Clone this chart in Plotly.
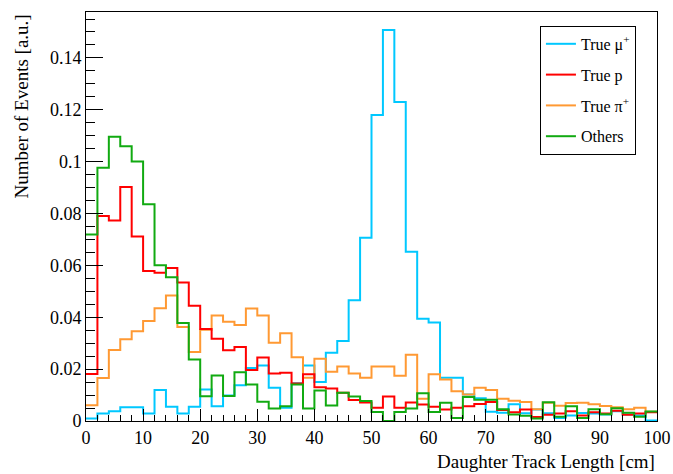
import plotly.graph_objects as go

bin_edges = [2 * i for i in range(51)]

true_mu = [0.0010, 0.0029, 0.0038, 0.0053, 0.0053, 0.0029, 0.0120, 0.0055, 0.0029, 0.0055,
           0.0121, 0.0057, 0.0098, 0.0138, 0.0204, 0.0214, 0.0128, 0.0051, 0.0146, 0.0214,
           0.0150, 0.0263, 0.0308, 0.0466, 0.0707, 0.1180, 0.1508, 0.1230, 0.0653, 0.0394,
           0.0380, 0.0167, 0.0167, 0.0102, 0.0088, 0.0036, 0.0032, 0.0065, 0.0030, 0.0044,
           0.0030, 0.0012, 0.0021, 0.0031, 0.0029, 0.0025, 0.0038, 0.0025, 0.0021, 0.0002]

true_p = [0.0181, 0.0790, 0.0773, 0.0902, 0.0711, 0.0578, 0.0572, 0.0590, 0.0534, 0.0444,
          0.0355, 0.0317, 0.0273, 0.0285, 0.0197, 0.0245, 0.0183, 0.0186, 0.0145, 0.0180,
          0.0130, 0.0125, 0.0109, 0.0081, 0.0071, 0.0051, 0.0094, 0.0051, 0.0071, 0.0064,
          0.0055, 0.0044, 0.0051, 0.0057, 0.0066, 0.0073, 0.0042, 0.0034, 0.0044, 0.0015,
          0.0024, 0.0029, 0.0038, 0.0021, 0.0034, 0.0029, 0.0040, 0.0024, 0.0029, 0.0034]

true_pi = [0.0061, 0.0166, 0.0274, 0.0315, 0.0346, 0.0386, 0.0435, 0.0484, 0.0362, 0.0266,
           0.0352, 0.0407, 0.0383, 0.0370, 0.0434, 0.0407, 0.0302, 0.0338, 0.0246, 0.0167,
           0.0240, 0.0190, 0.0210, 0.0183, 0.0167, 0.0210, 0.0210, 0.0174, 0.0255, 0.0086,
           0.0180, 0.0160, 0.0115, 0.0102, 0.0128, 0.0120, 0.0086, 0.0078, 0.0073, 0.0045,
           0.0070, 0.0059, 0.0069, 0.0070, 0.0065, 0.0058, 0.0053, 0.0045, 0.0051, 0.0036]

others = [0.0719, 0.0976, 0.1096, 0.1059, 0.1001, 0.0836, 0.0601, 0.0554, 0.0378, 0.0237,
          0.0095, 0.0175, 0.0096, 0.0188, 0.0141, 0.0074, 0.0048, 0.0057, 0.0141, 0.0048,
          0.0118, 0.0060, 0.0109, 0.0094, 0.0077, 0.0035, 0.0000, 0.0035, 0.0048, 0.0107,
          0.0035, 0.0070, 0.0012, 0.0093, 0.0082, 0.0082, 0.0045, 0.0025, 0.0020, 0.0010,
          0.0072, 0.0016, 0.0057, 0.0012, 0.0045, 0.0026, 0.0049, 0.0032, 0.0016, 0.0037]

series = [
    ("True μ<sup>+</sup>", true_mu, "#00C8FF"),
    ("True p", true_p, "#FF0000"),
    ("True π<sup>+</sup>", true_pi, "#FF9933"),
    ("Others", others, "#11AA11"),
]
draw_order = [0, 2, 1, 3]

FONT = "Liberation Serif"

fig = go.Figure()
for idx in draw_order:
    name, vals, color = series[idx]
    fig.add_trace(go.Scatter(
        x=bin_edges, y=list(vals) + [vals[-1]],
        mode="lines", line=dict(shape="hv", color=color, width=2),
        name=name, legendgroup="g%d" % idx, legendrank=idx + 1,
    ))

fig.update_layout(
    width=673, height=474,
    margin=dict(l=86, r=16, t=12, b=53, autoexpand=False),
    paper_bgcolor="white", plot_bgcolor="white",
    font=dict(family=FONT, size=18, color="black"),
    showlegend=True,
    legend=dict(
        x=0.795, y=0.966, xanchor="left", yanchor="top",
        bordercolor="black", borderwidth=1, bgcolor="white",
        font=dict(family=FONT, size=16),
        tracegroupgap=7, traceorder="grouped",
        itemwidth=30,
    ),
    xaxis=dict(
        range=[0, 100], dtick=10, tick0=0, automargin=False,
        ticks="inside", ticklen=12, tickwidth=1, tickcolor="black",
        showgrid=False, zeroline=False,
        showline=True, linecolor="black", linewidth=1, mirror=True,
        minor=dict(dtick=2, ticks="inside", ticklen=6, tickcolor="black", showgrid=False),
        tickfont=dict(family=FONT, size=18),
    ),
    yaxis=dict(
        range=[0, 0.1577], dtick=0.02, tick0=0, automargin=False,
        ticks="inside", ticklen=17, tickwidth=1, tickcolor="black",
        showgrid=False, zeroline=False,
        showline=True, linecolor="black", linewidth=1, mirror=True,
        minor=dict(dtick=0.005, ticks="inside", ticklen=9, tickcolor="black", showgrid=False),
        tickfont=dict(family=FONT, size=18),
    ),
    annotations=[
        dict(text="Number of Events [a.u.]", xref="paper", yref="paper",
             x=-0.113, y=1.0, xanchor="center", yanchor="top", textangle=-90,
             showarrow=False, font=dict(family=FONT, size=19)),
        dict(text="Daughter Track Length [cm]", xref="paper", yref="paper",
             x=1.0, y=-0.1, xanchor="right", yanchor="middle",
             showarrow=False, font=dict(family=FONT, size=19)),
    ],
)

fig.write_html("out.html")
